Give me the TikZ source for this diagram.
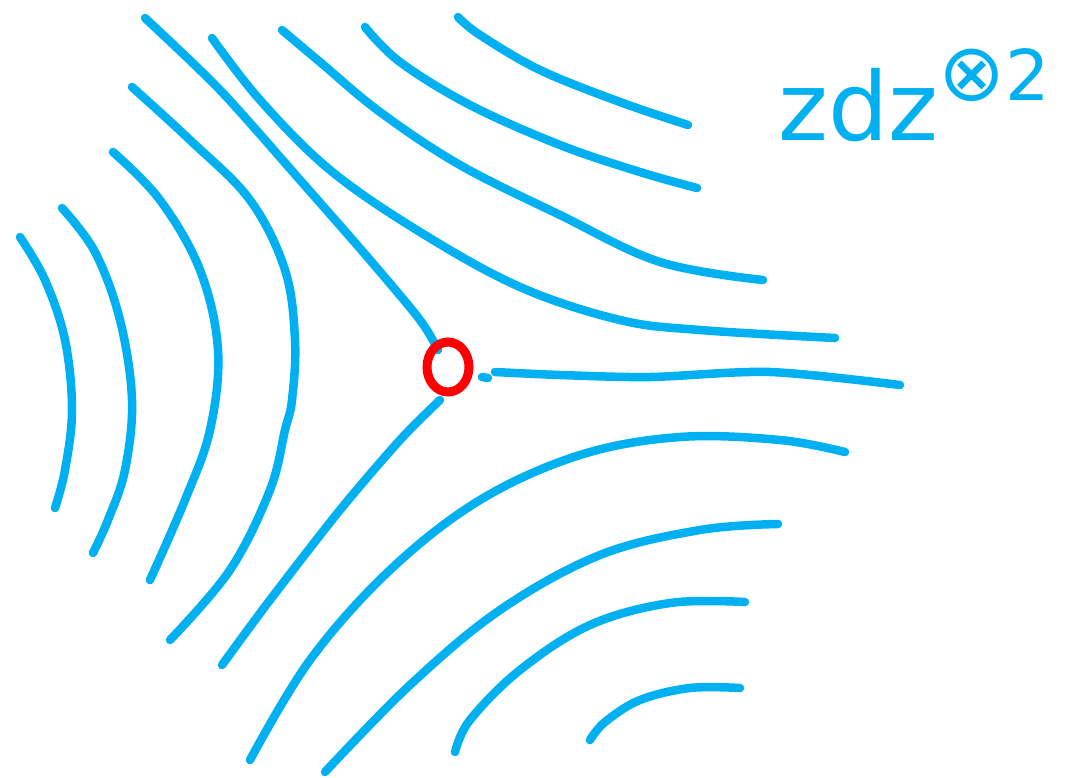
\documentclass[tikz,border=0pt]{standalone}
\usepackage{fontspec}
\setmainfont{DejaVu Sans}
\definecolor{traj}{HTML}{00B0F0}
\definecolor{zero}{HTML}{FF0000}
\tikzset{
  trajline/.style={draw=traj, line width=8.5pt, line cap=round, line join=round},
  zeromark/.style={draw=zero, line width=9pt},
  lbl/.style={text=traj, inner sep=0pt, anchor=base west}
}
\begin{document}
\begin{tikzpicture}[x=1pt,y=-1pt]
\useasboundingbox (0,0) rectangle (1065,777);
% left family
\draw[trajline] plot[smooth,tension=0.6] coordinates {(20,237) (45,280) (65,340) (72,410) (65,470) (55,508)};
\draw[trajline] plot[smooth,tension=0.6] coordinates {(62,208) (95,252) (120,320) (132,400) (125,470) (108,520) (93,553)};
\draw[trajline] plot[smooth,tension=0.6] coordinates {(113,152) (160,200) (200,270) (218,350) (210,430) (185,500) (150,580)};
\draw[trajline] plot[smooth,tension=0.6] coordinates {(132,87) (190,140) (250,200) (285,270) (295,340) (292,400) (285,430) (270,490) (230,570) (170,640)};
% separatrices
\draw[trajline] plot[smooth,tension=0.5] coordinates {(145,18) (220,90) (300,180) (370,260) (420,320) (438,350)};
\draw[trajline] plot[smooth,tension=0.5] coordinates {(440,400) (400,440) (340,510) (270,600) (222,665)};
\draw[trajline] (482,377) -- (488,378);
\draw[trajline] plot[smooth,tension=0.5] coordinates {(495,372) (560,375) (650,377) (770,372) (900,385)};
% upper-right family
\draw[trajline] plot[smooth,tension=0.6] coordinates {(458,17) (480,35) (540,70) (620,102) (688,125)};
\draw[trajline] plot[smooth,tension=0.6] coordinates {(365,27) (400,62) (470,105) (560,145) (640,172) (697,188)};
\draw[trajline] plot[smooth,tension=0.6] coordinates {(282,30) (320,62) (380,112) (460,165) (560,215) (660,262) (763,280)};
\draw[trajline] plot[smooth,tension=0.6] coordinates {(212,38) (260,100) (330,170) (420,232) (520,287) (620,320) (700,330) (835,338)};
% lower-right family
\draw[trajline] plot[smooth,tension=0.6] coordinates {(845,452) (780,440) (680,437) (580,455) (480,500) (390,570) (310,660) (250,760)};
\draw[trajline] plot[smooth,tension=0.6] coordinates {(778,524) (700,530) (600,555) (500,610) (410,685) (325,772)};
\draw[trajline] plot[smooth,tension=0.6] coordinates {(745,602) (670,603) (590,625) (520,670) (470,720) (455,752)};
\draw[trajline] plot[smooth,tension=0.6] coordinates {(740,688) (690,688) (640,700) (605,722) (590,740)};
% zero
\draw[zeromark] (448,367) ellipse [x radius=21, y radius=25];
% label
\node[lbl] (label) at (778,140) {\fontsize{95}{95}\selectfont zdz\raisebox{40pt}{\fontsize{80}{80}\selectfont ⊗\fontsize{70}{70}\selectfont 2}};
\end{tikzpicture}
\end{document}
